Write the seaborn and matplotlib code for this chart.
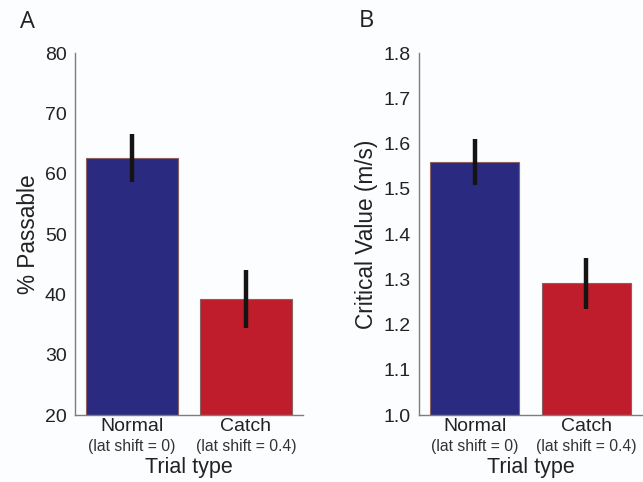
"""Two-panel bar chart: passable rate and critical value by trial type."""
import matplotlib
matplotlib.use("Agg")
import matplotlib.pyplot as plt
import pandas as pd
import seaborn as sns

TRIAL_TYPES = ["Normal", "Catch"]
SUBLABELS = ["(lat shift = 0)", "(lat shift = 0.4)"]
PASSABLE = [62.6, 39.2]
PASSABLE_ERR = [3.9, 4.85]
CRITICAL = [1.559, 1.291]
CRITICAL_ERR = [0.051, 0.056]

COLORS = {"Normal": "#2a2b80", "Catch": "#bf1d2b"}
BG = "#fcfdfe"
SPINE = "#7d7d7d"
TEXT = "#222222"


def draw_panel(ax, values, errors, ylim, yticks, fmt, ylabel, label_x):
    df = pd.DataFrame({"trial": TRIAL_TYPES, "value": values})
    sns.barplot(data=df, x="trial", y="value", hue="trial", palette=COLORS,
                order=TRIAL_TYPES, width=0.8, saturation=1, legend=False,
                errorbar=None, edgecolor="#8a6060", linewidth=0.8, ax=ax)
    ax.errorbar(range(len(values)), values, yerr=errors, fmt="none",
                ecolor="#141414", elinewidth=3.2, capsize=0, zorder=5)
    ax.set_facecolor(BG)
    ax.set_xlim(-0.5, 1.5)
    ax.set_ylim(*ylim)
    ax.set_yticks(yticks)
    ax.set_yticklabels([fmt.format(t) for t in yticks], fontsize=14, color=TEXT)
    ax.set_xticks(range(len(TRIAL_TYPES)))
    ax.set_xticklabels(TRIAL_TYPES, fontsize=14, color=TEXT)
    ax.tick_params(axis="x", length=0, pad=2)
    ax.tick_params(axis="y", direction="in", length=3, width=0.8, color=SPINE, pad=6)
    for side in ("top", "right"):
        ax.spines[side].set_visible(False)
    for side in ("left", "bottom"):
        ax.spines[side].set_color(SPINE)
        ax.spines[side].set_linewidth(1.0)
    xt = ax.get_xaxis_transform()
    for i, sub in enumerate(SUBLABELS):
        ax.text(i, -0.088, sub, transform=xt, ha="center", va="center",
                fontsize=11.3, color="#333333")
    ax.text(0.5, -0.146, "Trial type", transform=ax.transAxes, ha="center",
            va="center", fontsize=15.5, color=TEXT)
    ax.set_xlabel("")
    ax.set_ylabel(ylabel, fontsize=16.3, color=TEXT)
    ax.yaxis.set_label_coords(label_x, 0.5)


def main():
    sns.set_theme(style="white")
    plt.rcParams["font.family"] = ["Liberation Sans", "DejaVu Sans"]
    fig = plt.figure(figsize=(6.43, 4.82), dpi=100, facecolor=BG)
    ax_a = fig.add_axes([0.1166, 0.139, 0.3546, 0.751])
    ax_b = fig.add_axes([0.6516, 0.139, 0.3470, 0.751])

    draw_panel(ax_a, PASSABLE, PASSABLE_ERR, (20, 80), [20, 30, 40, 50, 60, 70, 80],
               "{:.0f}", "% Passable", -0.155)
    draw_panel(ax_b, CRITICAL, CRITICAL_ERR, (1.0, 1.8),
               [1.0, 1.1, 1.2, 1.3, 1.4, 1.5, 1.6, 1.7, 1.8],
               "{:.1f}", "Critical Value (m/s)", -0.183)

    fig.text(20 / 643, 1 - 22 / 482, "A", fontsize=17, family=["Open Sans", "DejaVu Sans"],
             ha="left", va="center", color=TEXT)
    fig.text(359 / 643, 1 - 21 / 482, "B", fontsize=17, family=["Open Sans", "DejaVu Sans"],
             ha="left", va="center", color=TEXT)

    fig.savefig("out.png", dpi=100, facecolor=BG)
    plt.close(fig)


if __name__ == "__main__":
    main()
